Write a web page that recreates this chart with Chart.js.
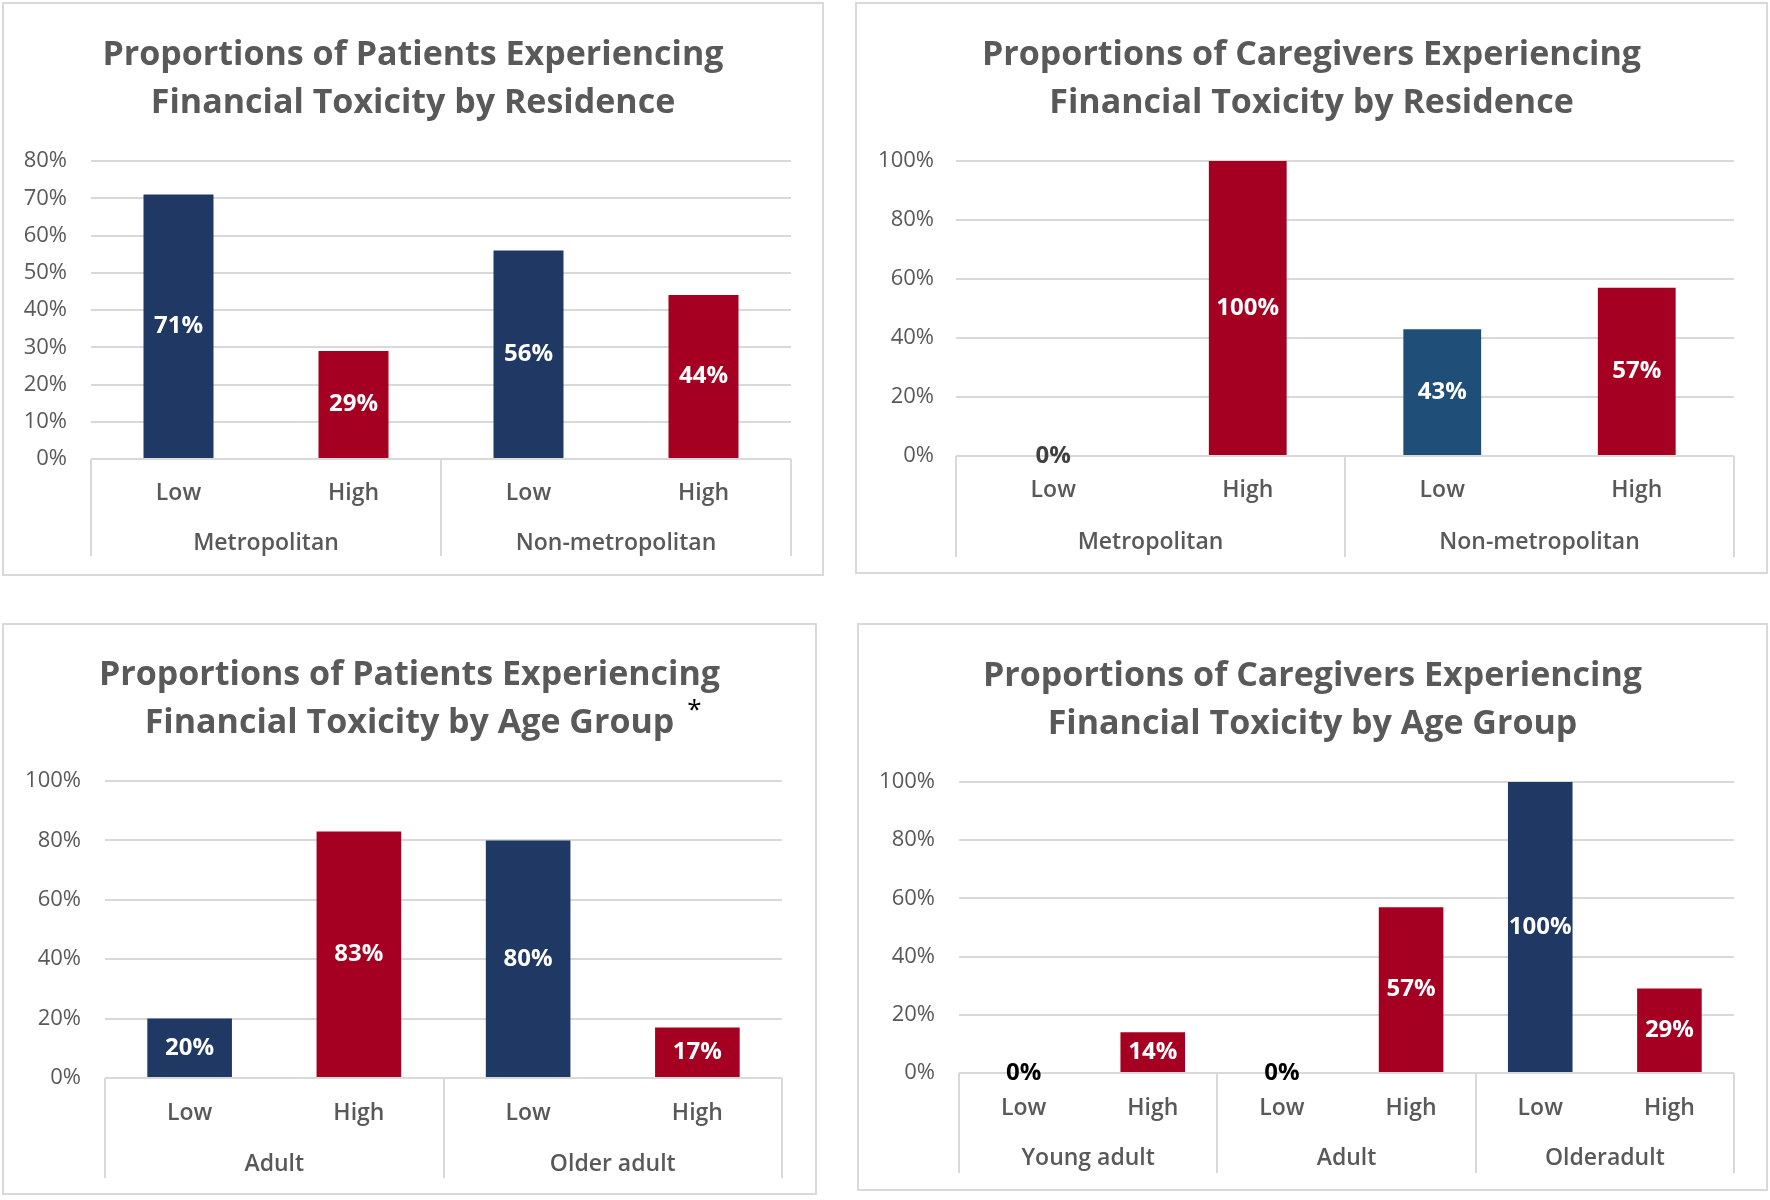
<!DOCTYPE html>
<html>
<head>
<meta charset="utf-8">
<script src="https://cdn.jsdelivr.net/npm/chart.js@4.4.1/dist/chart.umd.min.js"></script>
<style>
html,body{margin:0;padding:0;background:#fff;}
body{width:1770px;height:1200px;position:relative;overflow:hidden;}
.panel{position:absolute;border:2px solid #d9d9d9;background:#fff;}
.panel canvas{display:block;}
</style>
</head>
<body>
<div class="panel" style="left:2px;top:2px;"><canvas id="c1" width="818" height="570"></canvas></div>
<div class="panel" style="left:855px;top:2px;"><canvas id="c2" width="909" height="568"></canvas></div>
<div class="panel" style="left:2px;top:623px;"><canvas id="c3" width="811" height="568"></canvas></div>
<div class="panel" style="left:857px;top:623px;"><canvas id="c4" width="907" height="564"></canvas></div>
<script>
// ---------- DATA ----------
const p1Title = ['Proportions of Patients Experiencing', 'Financial Toxicity by Residence'];
const p1Categories = ['Low', 'High', 'Low', 'High'];
const p1Groups = ['Metropolitan', 'Non-metropolitan'];
const p1Values = [71, 29, 56, 44];
const p1YTicks = [0, 10, 20, 30, 40, 50, 60, 70, 80];

const p2Title = ['Proportions of Caregivers Experiencing', 'Financial Toxicity by Residence'];
const p2Categories = ['Low', 'High', 'Low', 'High'];
const p2Groups = ['Metropolitan', 'Non-metropolitan'];
const p2Values = [0, 100, 43, 57];
const p2YTicks = [0, 20, 40, 60, 80, 100];

const p3Title = ['Proportions of Patients Experiencing', 'Financial Toxicity by Age Group'];
const p3Categories = ['Low', 'High', 'Low', 'High'];
const p3Groups = ['Adult', 'Older adult'];
const p3Values = [20, 83, 80, 17];
const p3YTicks = [0, 20, 40, 60, 80, 100];

const p4Title = ['Proportions of Caregivers Experiencing', 'Financial Toxicity by Age Group'];
const p4Categories = ['Low', 'High', 'Low', 'High', 'Low', 'High'];
const p4Groups = ['Young adult', 'Adult', 'Olderadult'];
const p4Values = [0, 14, 0, 57, 100, 29];
const p4YTicks = [0, 20, 40, 60, 80, 100];

// ---------- STYLE ----------
const FONT = '"Open Sans", "Noto Sans", sans-serif';
const GREY_TEXT = '#595959';
const GRID = '#d9d9d9';
const NAVY = '#203864';
const RED = '#A50021';
const STEEL = '#1F4E79';

Chart.defaults.font.family = FONT;
Chart.defaults.color = GREY_TEXT;

const valueLabels = {
  id: 'valueLabels',
  afterDatasetsDraw(chart, args, opts) {
    const ctx = chart.ctx;
    const meta = chart.getDatasetMeta(0);
    const values = chart.data.datasets[0].data;
    ctx.save();
    ctx.font = 'bold ' + opts.size + 'px ' + FONT;
    ctx.textAlign = 'center';
    ctx.textBaseline = 'middle';
    meta.data.forEach((bar, i) => {
      const v = values[i];
      const p = bar.getProps(['x', 'y', 'base'], true);
      ctx.fillStyle = v === 0 ? opts.zeroColor : opts.color;
      ctx.fillText(v + '%', p.x, (p.y + p.base) / 2);
    });
    ctx.restore();
  }
};

const groupSeparators = {
  id: 'groupSeparators',
  afterDraw(chart, args, opts) {
    const x = chart.scales.x, x2 = chart.scales.x2;
    const n = chart.data.labels.length;
    const g = x2.getLabels().length;
    const per = n / g;
    const ctx = chart.ctx;
    ctx.save();
    ctx.strokeStyle = GRID;
    ctx.lineWidth = 2;
    for (let k = 0; k <= g; k++) {
      const px = Math.round(x.getPixelForValue(k * per - 0.5));
      ctx.beginPath();
      ctx.moveTo(px, x.top);
      ctx.lineTo(px, x2.bottom - opts.inset);
      ctx.stroke();
    }
    ctx.restore();
  }
};

const titleMark = {
  id: 'titleMark',
  afterDraw(chart, args, opts) {
    if (!opts.text) return;
    const t = chart.options.plugins.title;
    const tb = chart.titleBlock;
    const ctx = chart.ctx;
    const lines = t.text;
    ctx.save();
    ctx.font = t.font.weight + ' ' + t.font.size + 'px ' + FONT;
    const w = ctx.measureText(lines[lines.length - 1]).width;
    const cx = (tb.left + tb.right) / 2;
    const lh = opts.lineHeight;
    const lineY = tb.top + opts.padTop + lh * (lines.length - 0.5);
    ctx.font = opts.size + 'px ' + FONT;
    ctx.fillStyle = '#000';
    ctx.textAlign = 'center';
    ctx.textBaseline = 'middle';
    ctx.fillText(opts.text, cx + w / 2 + opts.gap, lineY + opts.dy);
    ctx.restore();
  }
};

function makeChart(id, title, categories, groups, values, yTicks, L) {
  const colors = categories.map(c => c === 'Low' ? (L.lowColor || NAVY) : RED);
  return new Chart(document.getElementById(id), {
    type: 'bar',
    data: {
      labels: categories,
      datasets: [{
        data: values,
        backgroundColor: colors,
        borderWidth: 0,
        barPercentage: L.barPct,
        categoryPercentage: 1
      }]
    },
    options: {
      responsive: false,
      animation: false,
      devicePixelRatio: 1,
      layout: { padding: 0 },
      plugins: {
        legend: { display: false },
        tooltip: { enabled: false },
        title: {
          display: true,
          text: title,
          color: GREY_TEXT,
          font: { size: 34, weight: 'bold', lineHeight: '48px' },
          padding: { top: L.titleTop, bottom: L.titleBottom }
        },
        valueLabels: { size: 24, color: '#ffffff', zeroColor: L.zeroColor || '#000' },
        groupSeparators: { inset: L.sepInset },
        titleMark: { text: L.mark || '', size: 26, gap: 20, dy: -12, lineHeight: 48, padTop: L.titleTop }
      },
      scales: {
        x: {
          type: 'category',
          position: 'bottom',
          offset: true,
          grid: { display: false, drawTicks: false, tickLength: 0 },
          border: { display: false },
          ticks: { color: GREY_TEXT, font: { size: 23, weight: '600', lineHeight: '24px' }, padding: L.xPad, maxRotation: 0, autoSkip: false },
          afterFit(s) { s.height = L.xH; }
        },
        x2: {
          type: 'category',
          position: 'bottom',
          labels: groups,
          offset: true,
          grid: { display: false, drawTicks: false, tickLength: 0 },
          border: { display: false },
          ticks: { color: GREY_TEXT, font: { size: 23, weight: '600', lineHeight: '24px' }, padding: L.x2Pad, maxRotation: 0, autoSkip: false },
          afterFit(s) { s.height = L.x2H; }
        },
        y: {
          type: 'linear',
          position: 'left',
          min: yTicks[0],
          max: yTicks[yTicks.length - 1],
          afterBuildTicks(s) { s.ticks = yTicks.map(v => ({ value: v })); },
          grid: { color: GRID, lineWidth: 2, drawTicks: false, tickLength: 0 },
          border: { display: false },
          ticks: { color: GREY_TEXT, font: { size: 22 }, padding: L.yPad, callback: v => v + '%' },
          afterFit(s) { s.width = L.yW; }
        },
        yR: {
          type: 'linear',
          position: 'right',
          display: true,
          grid: { display: false, drawTicks: false },
          border: { display: false },
          ticks: { display: false },
          afterFit(s) { s.width = L.rightW; }
        }
      }
    },
    plugins: [valueLabels, groupSeparators, titleMark]
  });
}

makeChart('c1', p1Title, p1Categories, p1Groups, p1Values, p1YTicks,
  { barPct: 0.4, yW: 87, yPad: 24, rightW: 31, titleTop: 27, titleBottom: 34, xH: 60, x2H: 55, xPad: 22, x2Pad: 12, sepInset: 18 });
makeChart('c2', p2Title, p2Categories, p2Groups, p2Values, p2YTicks,
  { barPct: 0.4, lowColor: STEEL, zeroColor: '#404040', yW: 99, yPad: 22, rightW: 32, titleTop: 27, titleBottom: 34, xH: 60, x2H: 56, xPad: 22, x2Pad: 14, sepInset: 15 });
makeChart('c3', p3Title, p3Categories, p3Groups, p3Values, p3YTicks,
  { barPct: 0.5, mark: '*', yW: 101, yPad: 24, rightW: 33, titleTop: 26, titleBottom: 34, xH: 60, x2H: 55, xPad: 23, x2Pad: 14, sepInset: 15 });
makeChart('c4', p4Title, p4Categories, p4Groups, p4Values, p4YTicks,
  { barPct: 0.5, yW: 100, yPad: 24, rightW: 32, titleTop: 27, titleBottom: 34, xH: 60, x2H: 56, xPad: 23, x2Pad: 13, sepInset: 16 });
</script>
</body>
</html>
